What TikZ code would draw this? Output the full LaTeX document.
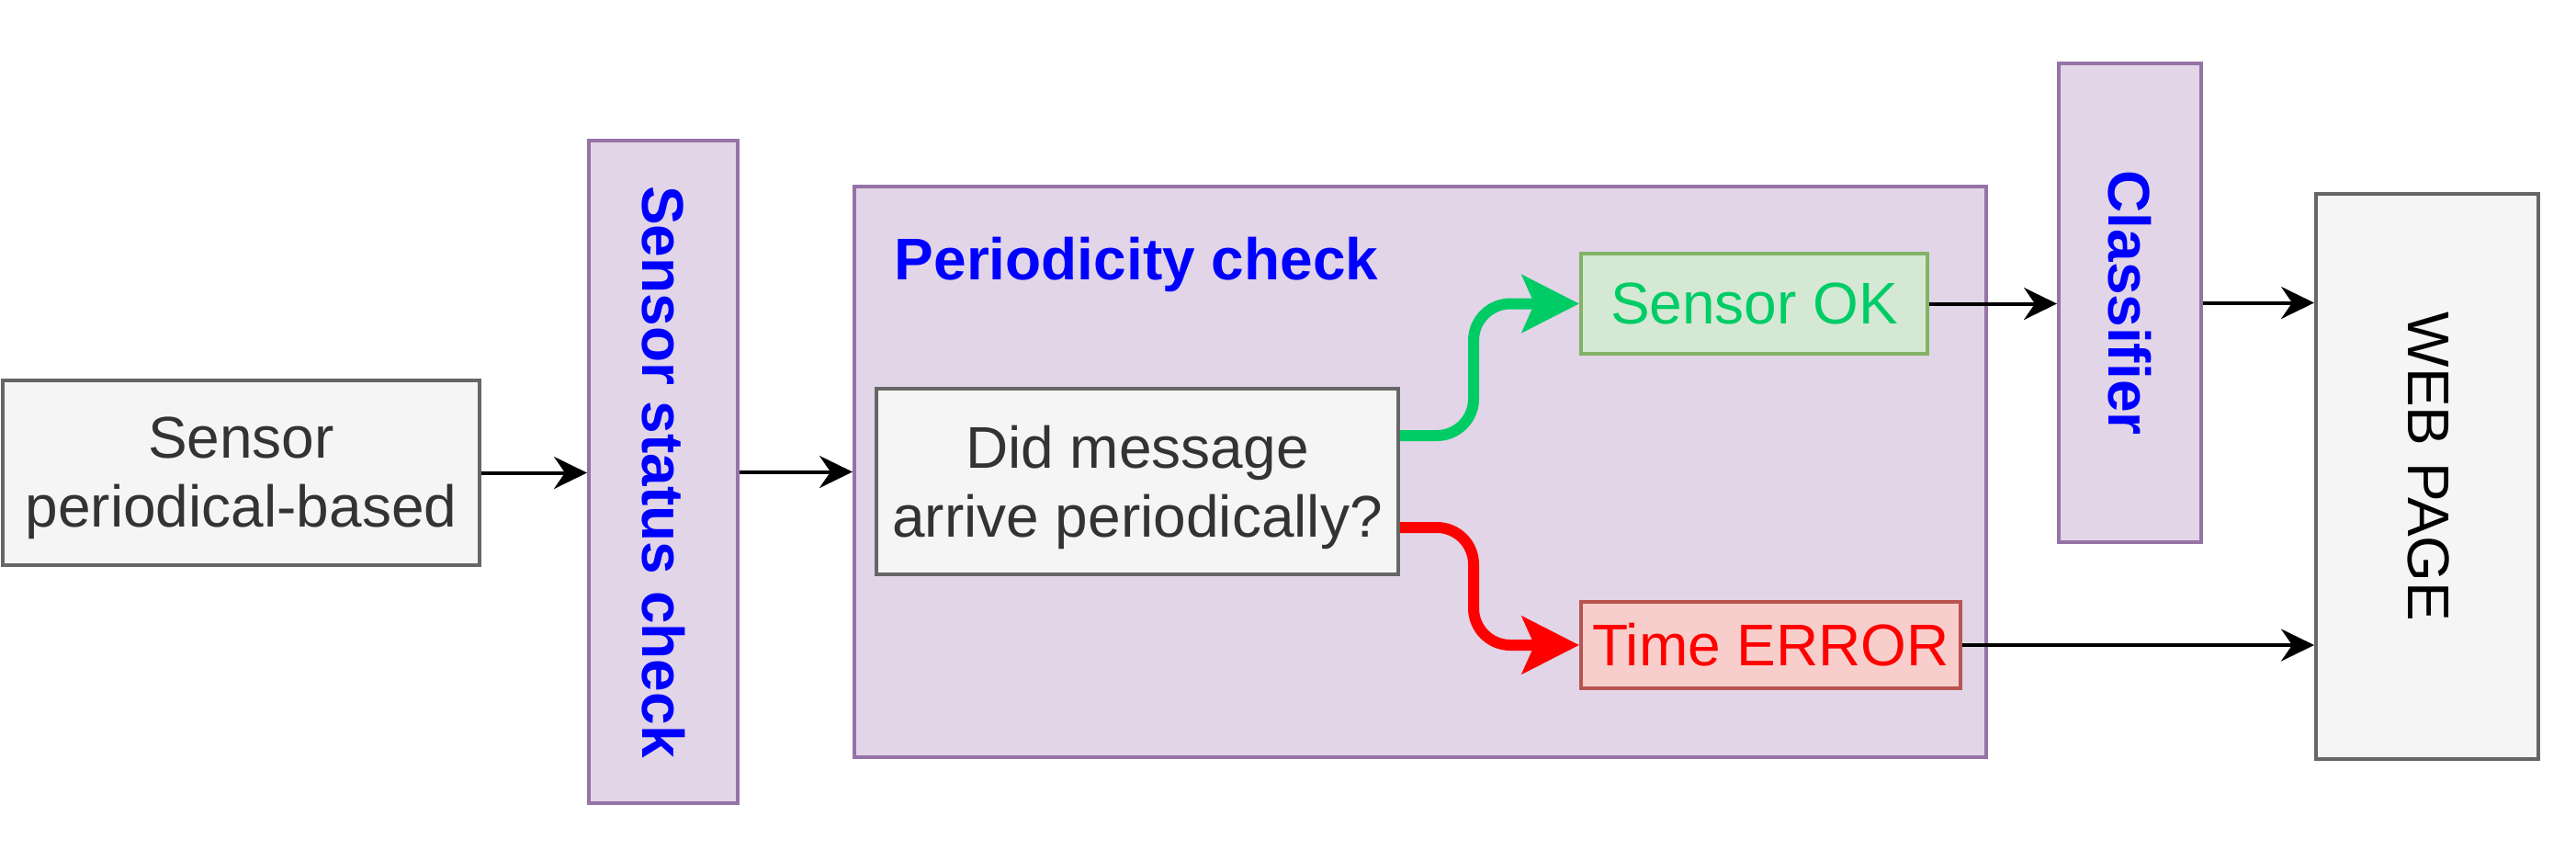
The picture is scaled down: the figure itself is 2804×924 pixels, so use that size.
\documentclass[tikz,border=0pt]{standalone}
\usepackage{fontspec}
\setmainfont{Liberation Sans}
\usetikzlibrary{arrows.meta,calc}
\definecolor{pfill}{HTML}{E1D5E7}
\definecolor{pdraw}{HTML}{9673A6}
\definecolor{gfill}{HTML}{F5F5F5}
\definecolor{gdraw}{HTML}{666666}
\definecolor{gtext}{HTML}{333333}
\definecolor{okfill}{HTML}{D5E8D4}
\definecolor{okdraw}{HTML}{82B366}
\definecolor{oktext}{HTML}{00CC66}
\definecolor{errfill}{HTML}{F8CECC}
\definecolor{errdraw}{HTML}{B85450}
\definecolor{errtext}{HTML}{FF0000}
\definecolor{bluetext}{HTML}{0000FF}
\tikzset{
  base/.style={line width=1pt, inner sep=0pt, align=center, font=\fontsize{16}{18.75}\selectfont},
  graybox/.style={base, draw=gdraw, fill=gfill, text=gtext},
  graytext/.style={base, text=gtext, yshift=-1.5pt},
  purplebox/.style={base, draw=pdraw, fill=pfill},
  okbox/.style={base, draw=okdraw, fill=okfill, text=oktext},
  errbox/.style={base, draw=errdraw, fill=errfill, text=errtext},
  bluelabel/.style={inner sep=0pt, text=bluetext, font=\fontsize{16}{18.75}\selectfont\bfseries},
  conn/.style={line width=1pt, -{Stealth[length=9pt,width=8.75pt,inset=3pt]}},
  branch/.style={line width=3pt, rounded corners=10pt, -{Stealth[length=15.5pt,width=15.5pt,inset=3.3pt]}}
}
\begin{document}
\begin{tikzpicture}[x=0.25pt,y=-0.25pt]
\useasboundingbox (0,0) rectangle (2804,924);
% boxes
\node[graybox, minimum width=129.75pt, minimum height=50.25pt] (sensor) at (262.5,514.5) {};
\node[graytext] (sensortext) at (sensor.center) {Sensor\\periodical-based};
\node[purplebox, minimum width=40.5pt, minimum height=180.25pt] (ssc) at (722,513.5) {};
\node[bluelabel, rotate=-90] (ssclabel) at (ssc.center) {Sensor status check};
\node[purplebox, minimum width=308pt, minimum height=155.25pt] (period) at (1546,513.5) {};
\node[bluelabel, anchor=base west] (title) at (973,304) {Periodicity check};
\node[graybox, minimum width=142pt, minimum height=50.5pt] (dec) at (1238,524) {};
\node[graytext] (dectext) at (dec.center) {Did message\\arrive periodically?};
\node[okbox, minimum width=94.25pt, minimum height=27.25pt] (ok) at (1909.5,330.5) {Sensor OK};
\node[errbox, minimum width=103.25pt, minimum height=23.5pt] (err) at (1927.5,702) {Time ERROR};
\node[purplebox, minimum width=38.75pt, minimum height=130.25pt] (cls) at (2318.5,329.5) {};
\node[bluelabel, rotate=-90] (clslabel) at (cls.center) {Classifier};
\node[graybox, minimum width=60.5pt, minimum height=153.75pt] (web) at (2642,518.5) {};
\node[base, text=black, rotate=-90] (weblabel) at (2643,508) {WEB PAGE};
% connectors
\draw[conn] (sensor.east) -- (sensor.east -| ssc.west);
\draw[conn] (ssc.east) -- (ssc.east -| period.west);
\draw[branch, draw=oktext] ([yshift=12.5pt]dec.east) -- ++(20pt,0) |- (ok.west);
\draw[branch, draw=errtext] ([yshift=-12.5pt]dec.east) -- ++(20pt,0) |- (err.west);
\draw[conn] (ok.east) -- (ok.east -| cls.west);
\draw[conn] (cls.east) -- (cls.east -| web.west);
\draw[conn] (err.east) -- (err.east -| web.west);
\end{tikzpicture}
\end{document}
